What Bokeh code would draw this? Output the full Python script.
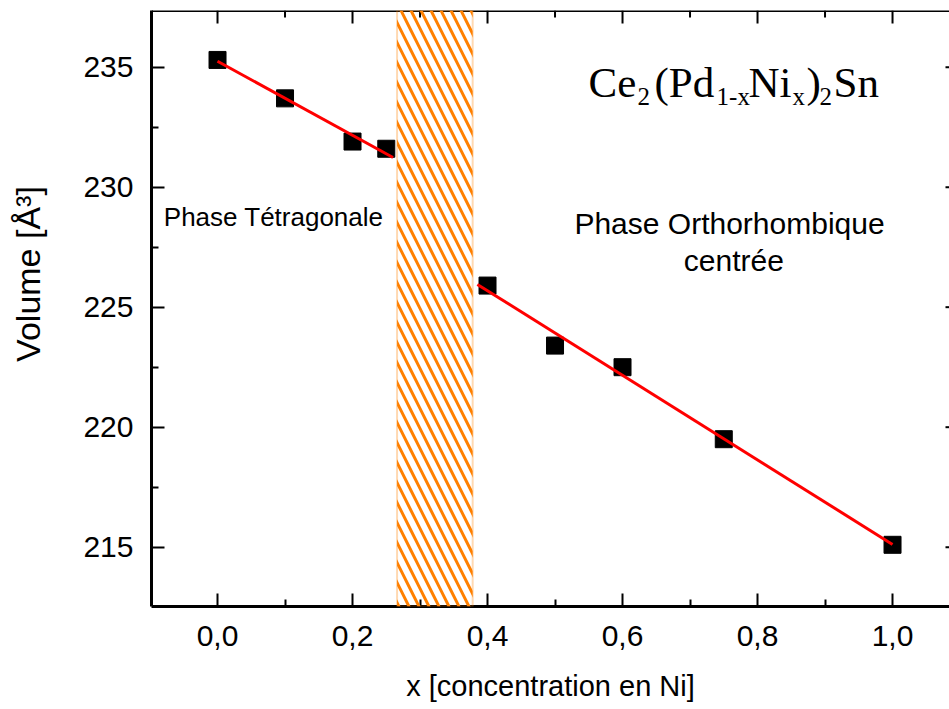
import numpy as np
from bokeh.plotting import figure
from bokeh.layouts import row
from bokeh.models import FixedTicker, BoxAnnotation, Label, Span, Range1d
from bokeh.embed import file_html
from bokeh.resources import INLINE

# Unit-cell volume of Ce2(Pd1-xNix)2Sn against Ni concentration
x_tet = [0.0, 0.1, 0.2, 0.25]
v_tet = [235.3, 233.7, 231.9, 231.6]
x_orth = [0.4, 0.5, 0.6, 0.75, 1.0]
v_orth = [225.9, 223.4, 222.5, 219.5, 215.1]

# x-span over which each linear fit is drawn
fit_tet_span = [0.0, 0.26]
fit_orth_span = [0.385, 1.0]

# two-phase region (hatched)
two_phase = [0.266, 0.378]

x_ticks = [0.0, 0.2, 0.4, 0.6, 0.8, 1.0]
x_tick_labels = ["0,0", "0,2", "0,4", "0,6", "0,8", "1,0"]
x_minor = [0.1, 0.3, 0.5, 0.7, 0.9]
y_ticks = [215, 220, 225, 230, 235]
y_tick_labels = ["215", "220", "225", "230", "235"]
y_minor = [217.5, 222.5, 227.5, 232.5]

SANS = "Liberation Sans"
SERIF = "Liberation Serif"

X0, X1 = -0.0978, 1.0844
Y0, Y1 = 212.53, 237.36

TITLE_W = 60
H = 709

# narrow strip holding the rotated y-axis title (pixel coordinates, origin bottom-left)
strip = figure(width=TITLE_W, height=H, x_range=Range1d(0, TITLE_W), y_range=Range1d(0, H),
               x_axis_location=None, y_axis_location=None,
               output_backend="svg", toolbar_location=None, min_border=0,
               outline_line_color=None, background_fill_color="white", border_fill_color="white")
strip.xgrid.visible = False
strip.ygrid.visible = False
strip.add_layout(Label(x=27, y=291, angle=np.pi / 2, text="Volume [Å³]",
                       text_font=SANS, text_font_size="34px", text_color="black",
                       text_align="left", text_baseline="alphabetic"))

p = figure(width=949 - TITLE_W, height=H,
           x_range=Range1d(X0, X1), y_range=Range1d(Y0, Y1),
           output_backend="svg", toolbar_location=None,
           min_border_left=151 - TITLE_W, min_border_right=0, min_border_top=10,
           min_border_bottom=103,
           outline_line_color=None, background_fill_color="white", border_fill_color="white")
p.xgrid.visible = False
p.ygrid.visible = False


def style_axis(ax, ticks, minor, labels):
    ax.ticker = FixedTicker(ticks=ticks, minor_ticks=minor)
    ax.axis_line_width = 3
    ax.axis_line_color = "black"
    ax.major_tick_in = 13
    ax.major_tick_out = 0
    ax.minor_tick_in = 7
    ax.minor_tick_out = 0
    ax.major_tick_line_width = 2
    ax.minor_tick_line_width = 2
    ax.major_label_overrides = dict(zip(ticks, labels))
    ax.major_label_text_font = SANS
    ax.major_label_text_font_size = "30px"
    ax.major_label_text_color = "black"


xa = p.xaxis[0]
style_axis(xa, x_ticks, x_minor, x_tick_labels)
xa.major_label_standoff = 19
xa.axis_label = "x [concentration en Ni]"
xa.axis_label_text_font = SANS
xa.axis_label_text_font_size = "29px"
xa.axis_label_text_font_style = "normal"
xa.axis_label_text_color = "black"
xa.axis_label_standoff = 21

ya = p.yaxis[0]
style_axis(ya, y_ticks, y_minor, y_tick_labels)
ya.major_label_standoff = 18

# top border with inward ticks, short inward ticks on the right edge
p.add_layout(Span(location=Y1, dimension="width", line_color="black", line_width=3))
p.ray(x=x_ticks, y=[Y1] * len(x_ticks), length=13, length_units="screen",
      angle=-np.pi / 2, line_color="black", line_width=2)
p.ray(x=x_minor, y=[Y1] * len(x_minor), length=7, length_units="screen",
      angle=-np.pi / 2, line_color="black", line_width=2)
p.ray(x=[X1] * len(y_ticks), y=y_ticks, length=4, length_units="screen",
      angle=np.pi, line_color="black", line_width=2)

# hatched two-phase band
p.add_layout(BoxAnnotation(left=two_phase[0], right=two_phase[1],
                           fill_alpha=0.0,
                           hatch_pattern="\\", hatch_color="#FF8000",
                           hatch_scale=20, hatch_weight=3,
                           line_color="#FF8000", line_width=2))

# data points then fitted lines
p.scatter(x_tet, v_tet, marker="square", size=17, color="black")
p.scatter(x_orth, v_orth, marker="square", size=17, color="black")

c_tet = np.polyfit(x_tet, v_tet, 1)
c_orth = np.polyfit(x_orth, v_orth, 1)
p.line(fit_tet_span, list(np.polyval(c_tet, fit_tet_span)), line_color="red", line_width=3)
p.line(fit_orth_span, list(np.polyval(c_orth, fit_orth_span)), line_color="red", line_width=3)

# phase annotations
p.add_layout(Label(x=-0.0796, y=228.75, text="Phase Tétragonale", text_font=SANS,
                   text_font_size="26px", text_color="black", text_baseline="alphabetic"))
p.add_layout(Label(x=0.7585, y=228.475, text="Phase Orthorhombique", text_font=SANS,
                   text_font_size="30px", text_color="black", text_align="center",
                   text_baseline="alphabetic"))
p.add_layout(Label(x=0.765, y=226.95, text="centrée", text_font=SANS,
                   text_font_size="30px", text_color="black", text_align="center",
                   text_baseline="alphabetic"))

# compound formula with subscripts
formula = [("Ce", 0.5496, False), ("2", 0.6222, True), ("(Pd", 0.6474, False),
           ("1-x", 0.7393, True), ("Ni", 0.7867, False), ("x", 0.8519, True),
           (")", 0.8726, False), ("2", 0.8919, True), ("Sn", 0.9126, False)]
for txt, xpos, sub in formula:
    p.add_layout(Label(x=xpos, y=233.76 if sub else 234.375, text=txt, text_font=SERIF,
                       text_font_size="25px" if sub else "43px", text_color="black",
                       text_baseline="alphabetic"))

layout = row(strip, p, spacing=0)
open("out.html", "w").write(file_html(layout, INLINE))
